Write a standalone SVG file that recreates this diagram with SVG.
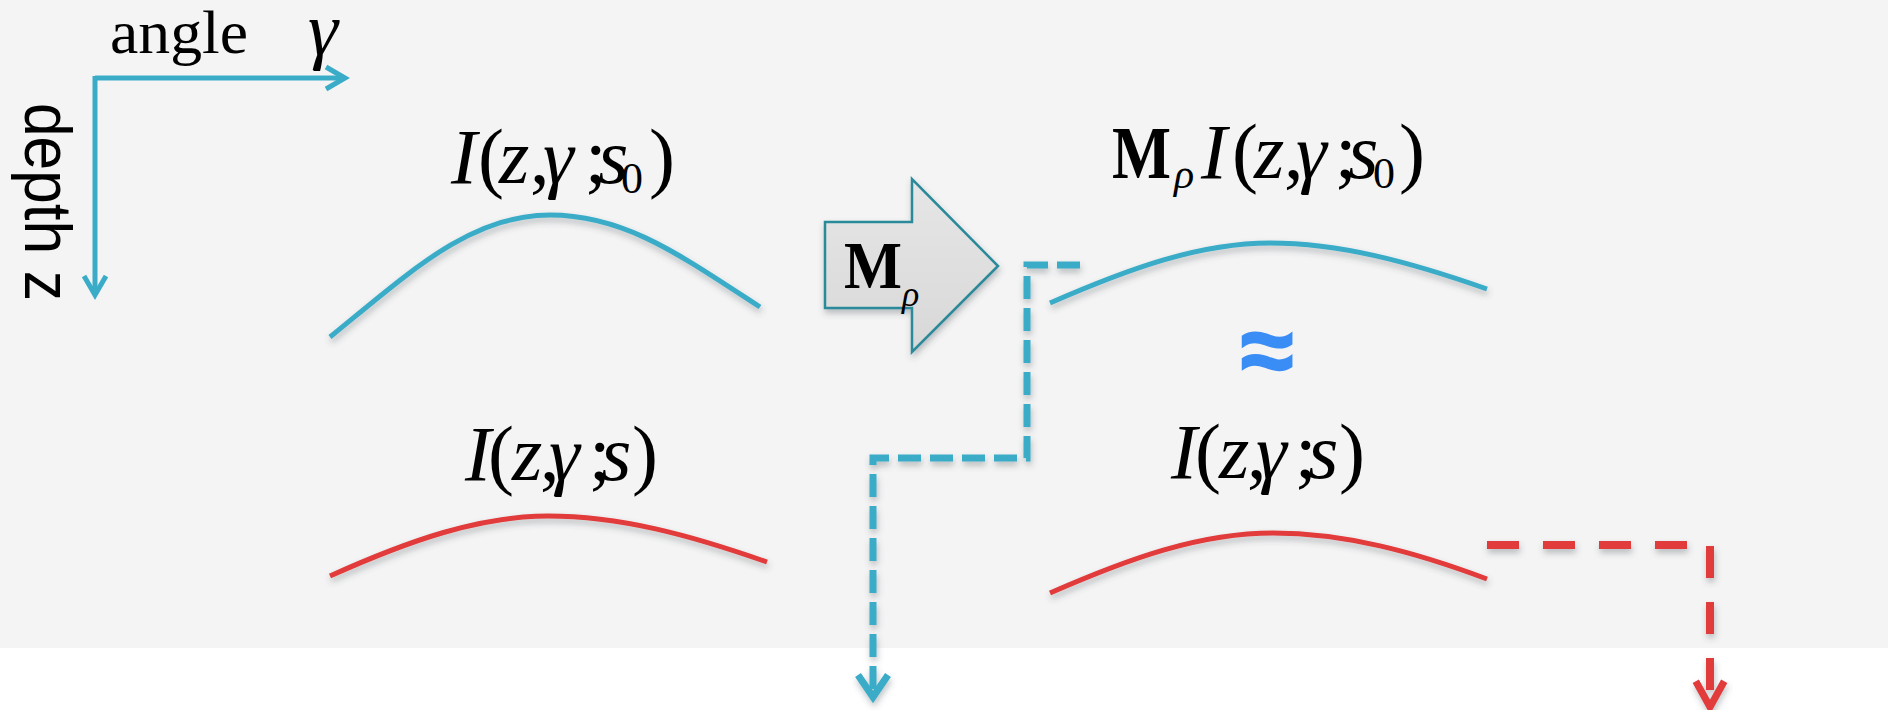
<svg xmlns="http://www.w3.org/2000/svg" width="1888" height="710" viewBox="0 0 1888 710">
  <style>
    .m { font-family: "Liberation Serif", "Times New Roman", serif; fill: #000; }
    .L { font-size: 78px; }
    .i { font-style: italic; }
    .b { font-weight: bold; }
    .blue { stroke: #3AACC8; }
    .red { stroke: #E23A3A; }
    .curve { fill: none; stroke-width: 5; stroke-linecap: butt; filter: url(#sh); }
    .axis { fill: none; stroke: #3AACC8; stroke-width: 5; }
    .dash { fill: none; stroke-linejoin: miter; filter: url(#sh); }
  </style>
  <defs>
    <filter id="sh" x="-10%" y="-30%" width="120%" height="170%">
      <feDropShadow dx="1" dy="4" stdDeviation="3" flood-color="#40505a" flood-opacity="0.35"/>
    </filter>
    <linearGradient id="gArrow" x1="0" y1="0" x2="0" y2="1">
      <stop offset="0" stop-color="#E6E6E6"/>
      <stop offset="1" stop-color="#D8D8D8"/>
    </linearGradient>
    <marker id="axHead" markerUnits="userSpaceOnUse" markerWidth="40" markerHeight="40" viewBox="-25 -20 35 40" refX="0" refY="0" orient="auto" overflow="visible">
      <path d="M-19,-11 L0,0 L-19,11" fill="none" stroke="#3AACC8" stroke-width="5"/>
    </marker>
    <marker id="blueHead" markerUnits="userSpaceOnUse" markerWidth="40" markerHeight="40" viewBox="-30 -20 40 40" refX="0" refY="0" orient="auto" overflow="visible">
      <path d="M-22,-15 L0,0 L-22,15" fill="none" stroke="#3AACC8" stroke-width="7"/>
    </marker>
    <marker id="redHead" markerUnits="userSpaceOnUse" markerWidth="40" markerHeight="40" viewBox="-35 -20 45 40" refX="0" refY="0" orient="auto" overflow="visible">
      <path d="M-29,-16 L0,0 L-29,16" fill="none" stroke="#E23A3A" stroke-width="8"/>
    </marker>
  </defs>

  <rect x="0" y="0" width="1888" height="710" fill="#FFFFFF"/>
  <rect x="0" y="0" width="1888" height="648" fill="#F4F4F4"/>

  <g id="axes">
    <path class="axis" d="M95,78 H345" marker-end="url(#axHead)"/>
    <path class="axis" d="M95,76 V295" marker-end="url(#axHead)"/>
    <text class="m" x="110" y="53" font-size="62" textLength="138" lengthAdjust="spacingAndGlyphs">angle</text>
    <text class="m i" x="308" y="55" font-size="76">γ</text>
    <text transform="translate(25,103) rotate(90)" x="0" y="0" font-family="Liberation Sans, Arial, sans-serif" font-size="66" textLength="198" lengthAdjust="spacingAndGlyphs" fill="#000">depth z</text>
  </g>

  <g id="curve-s0">
    <text class="m L" y="183"><tspan class="i" x="451">I</tspan><tspan x="478">(</tspan><tspan class="i" x="499">z</tspan><tspan x="530">,</tspan><tspan class="i" x="543">γ</tspan><tspan x="585">;</tspan><tspan class="i" x="598">s</tspan><tspan x="621" y="193" font-size="44">0</tspan><tspan x="649" y="183">)</tspan></text>
    <path class="curve blue" d="M330,337 C410,272 470,215 550,215 C625,215 680,255 760,307"/>
  </g>

  <g id="curve-s">
    <text class="m L" y="480"><tspan class="i" x="465">I</tspan><tspan x="488">(</tspan><tspan class="i" x="512">z</tspan><tspan x="540">,</tspan><tspan class="i" x="549">γ</tspan><tspan x="589">;</tspan><tspan class="i" x="601">s</tspan><tspan x="632">)</tspan></text>
    <path class="curve red" d="M330,576 C410,540 480,516 548,516 C620,516 690,535 767,562"/>
  </g>

  <g id="operator">
    <polygon points="825,222 912,222 912,179 998,266 912,352 912,308 825,308" fill="url(#gArrow)" stroke="#2B8A9A" stroke-width="2.5" stroke-linejoin="miter" filter="url(#sh)"/>
    <text class="m b" x="844" y="288" font-size="68" textLength="58" lengthAdjust="spacingAndGlyphs">M</text>
    <text class="m i" x="902" y="306" font-size="36">ρ</text>
  </g>

  <g id="curve-mapped">
    <text class="m b" x="1112" y="178" font-size="74" textLength="59" lengthAdjust="spacingAndGlyphs">M</text>
    <text class="m i" x="1174" y="188" font-size="42">ρ</text>
    <text class="m L" y="178"><tspan class="i" x="1201">I</tspan><tspan x="1232">(</tspan><tspan class="i" x="1254">z</tspan><tspan x="1284">,</tspan><tspan class="i" x="1296">γ</tspan><tspan x="1335">;</tspan><tspan class="i" x="1348">s</tspan><tspan x="1373" y="188" font-size="44">0</tspan><tspan x="1399" y="178">)</tspan></text>
    <path class="curve blue" d="M1050,303 C1130,268 1200,243 1270,243 C1340,243 1410,262 1487,289"/>
  </g>

  <g id="approx">
    <text x="1267" y="383" text-anchor="middle" font-family="Liberation Sans, Arial, sans-serif" font-weight="bold" font-size="96" fill="#3A8DF5" stroke="#3A8DF5" stroke-width="2">≈</text>
  </g>

  <g id="curve-s-right">
    <text class="m L" y="478"><tspan class="i" x="1171">I</tspan><tspan x="1195">(</tspan><tspan class="i" x="1219">z</tspan><tspan x="1247">,</tspan><tspan class="i" x="1256">γ</tspan><tspan x="1295">;</tspan><tspan class="i" x="1308">s</tspan><tspan x="1339">)</tspan></text>
    <path class="curve red" d="M1050,593 C1130,558 1200,533 1273,533 C1345,533 1415,552 1487,579"/>
  </g>

  <g id="connectors">
    <path class="dash blue" d="M1080,265 H1027 V458 H873 V697" stroke-width="7" stroke-dasharray="23 9" marker-end="url(#blueHead)"/>
    <path class="dash red" d="M1487,545 H1710 V707" stroke-width="8" stroke-dasharray="32 24" marker-end="url(#redHead)"/>
  </g>
</svg>
